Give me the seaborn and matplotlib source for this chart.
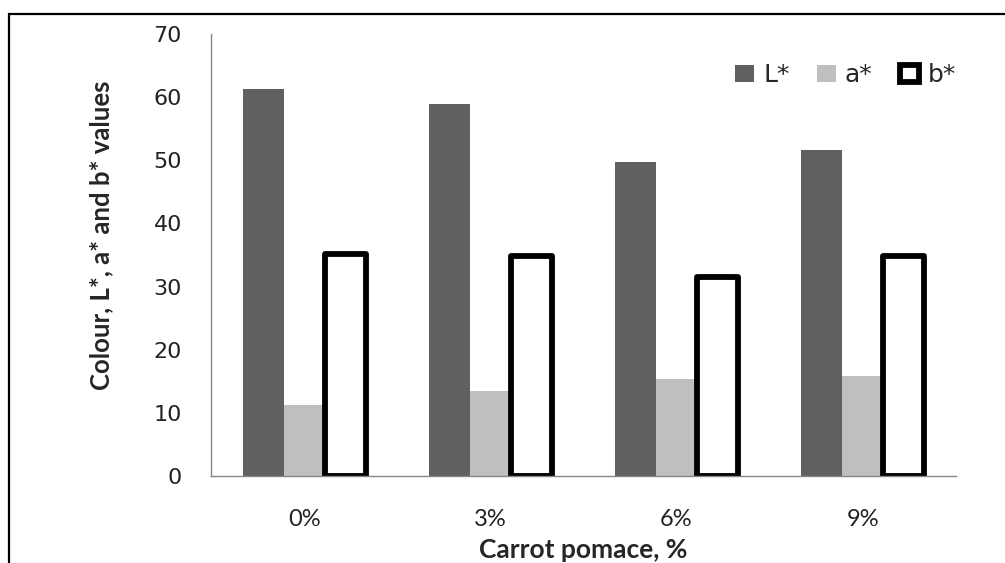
import pandas as pd
import numpy as np
import matplotlib.pyplot as plt
import seaborn as sns
from matplotlib.patches import Rectangle

# values
categories = ['0%', '3%', '6%', '9%']
series = ['L*', 'a*', 'b*']
L_vals = [61.3, 58.9, 49.8, 51.6]
a_vals = [11.3, 13.4, 15.4, 15.8]
b_vals = [35.1, 34.8, 31.6, 34.9]
y_ticks = [0, 10, 20, 30, 40, 50, 60, 70]

df = pd.DataFrame({
    'pomace': categories * 3,
    'param': [s for s in series for _ in categories],
    'value': L_vals + a_vals + b_vals,
})

sns.set_style('white')
plt.rcParams['font.family'] = ['DejaVu Sans']

fig = plt.figure(figsize=(10.05, 5.63), dpi=100)
ax = fig.add_axes([0.21, 0.1545, 0.741, 0.785])

sns.barplot(data=df, x='pomace', y='value', hue='param', order=categories,
            hue_order=series, palette=['#606060', '#bfbfbf', '#ffffff'],
            width=0.66, saturation=1, legend=False, ax=ax)

# b* bars are drawn as thick black outlines
for c in ax.containers[:2]:
    for p in c:
        p.set_edgecolor('none')
for p in ax.containers[2]:
    p.set_facecolor('white')
    p.set_edgecolor('black')
    p.set_linewidth(4.2)
    p.set_joinstyle('round')

ax.set_ylim(0, 70)
ax.set_xlim(-0.5, 3.5)
ax.set_yticks(y_ticks)
ax.set_yticklabels([str(t) for t in y_ticks], fontsize=16, color='#222222')

# x: labels centred, tick marks at category boundaries
ax.set_xticks(range(len(categories)))
ax.set_xticklabels(categories, family='Lato', fontsize=17, color='#222222')
ax.set_xticks(np.arange(-0.5, len(categories)), minor=True)
ax.tick_params(axis='x', which='major', length=0, pad=24)
ax.tick_params(axis='x', which='minor', length=8, color='#868686', width=1, direction='out')
ax.tick_params(axis='y', length=8, color='#868686', width=1, direction='out', pad=13)

for s in ['top', 'right']:
    ax.spines[s].set_visible(False)
for s in ['left', 'bottom']:
    ax.spines[s].set_color('#868686')
    ax.spines[s].set_linewidth(1)

ax.set_xlabel('Carrot pomace, %', family='Lato', fontsize=19, fontweight='bold', va='center')
ax.xaxis.set_label_coords(0.5, -0.167)
ax.set_ylabel('Colour, L*, a* and b* values', family='Lato', fontsize=18.5,
              fontweight='bold', va='center')
ax.yaxis.set_label_coords(-0.148, 0.545)

ax.legend(ax.containers, series, loc='center right', bbox_to_anchor=(1.0, 0.907),
          ncol=3, frameon=False, fontsize=18, handlelength=0.75, handleheight=0.65,
          handletextpad=0.36, columnspacing=1.1, borderpad=0, borderaxespad=0)

# outer frame around the whole picture
fig.patches.append(Rectangle((0.009, -0.05), 1.0, 1.025, fill=False, edgecolor='black',
                             linewidth=1.6, transform=fig.transFigure, clip_on=False))

fig.savefig('out.png', dpi=100)
